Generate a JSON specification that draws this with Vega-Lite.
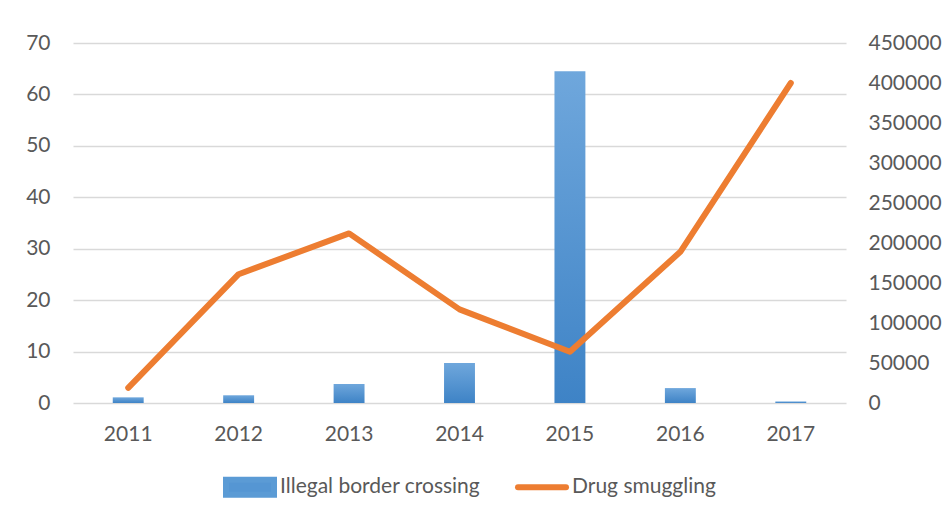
{
  "$schema": "https://vega.github.io/schema/vega-lite/v6.json",
  "width": 773,
  "height": 360,
  "autosize": {"type": "none"},
  "padding": {"left": 73, "top": 43, "right": 99, "bottom": 113},
  "background": "white",
  "data": {
    "values": [
      {"year": "2011", "crossing": 1.1, "smuggling": 19000},
      {"year": "2012", "crossing": 1.5, "smuggling": 161000},
      {"year": "2013", "crossing": 3.7, "smuggling": 212000},
      {"year": "2014", "crossing": 7.8, "smuggling": 117000},
      {"year": "2015", "crossing": 64.5, "smuggling": 64000},
      {"year": "2016", "crossing": 2.9, "smuggling": 189000},
      {"year": "2017", "crossing": 0.3, "smuggling": 400000}
    ]
  },
  "encoding": {
    "x": {
      "field": "year",
      "type": "ordinal",
      "title": null,
      "scale": {"paddingInner": 0, "paddingOuter": 0},
      "axis": {"labelAngle": 0, "domain": false, "ticks": false, "labelPadding": 20}
    }
  },
  "layer": [
    {
      "mark": {
        "type": "bar",
        "width": {"band": 0.28},
        "fill": {
          "gradient": "linear",
          "x1": 0, "y1": 0, "x2": 0, "y2": 1,
          "stops": [
            {"offset": 0, "color": "#6FA7DC"},
            {"offset": 1, "color": "#3E83C6"}
          ]
        }
      },
      "encoding": {
        "y": {
          "field": "crossing",
          "type": "quantitative",
          "title": null,
          "scale": {"domain": [0, 70]},
          "axis": {
            "values": [0, 10, 20, 30, 40, 50, 60, 70],
            "domain": false,
            "ticks": false,
            "labelPadding": 23,
            "grid": true
          }
        }
      }
    },
    {
      "mark": {"type": "line", "strokeWidth": 6, "strokeCap": "round", "strokeJoin": "round"},
      "encoding": {
        "y": {
          "field": "smuggling",
          "type": "quantitative",
          "title": null,
          "scale": {"domain": [0, 450000]},
          "axis": {
            "orient": "right",
            "values": [0, 50000, 100000, 150000, 200000, 250000, 300000, 350000, 400000, 450000],
            "format": "d",
            "domain": false,
            "ticks": false,
            "grid": false,
            "labelPadding": 22
          }
        },
        "color": {
          "datum": "Drug smuggling",
          "scale": {
            "domain": ["Illegal border crossing", "Drug smuggling"],
            "range": ["#5B9BD5", "#ED7D31"]
          },
          "legend": {
            "title": null,
            "orient": "none",
            "legendX": 150,
            "legendY": 417,
            "direction": "horizontal",
            "padding": 0,
            "labelLimit": 0,
            "labelOffset": 3,
            "columnPadding": 25,
            "symbolSize": 2304,
            "symbolStrokeWidth": 6,
            "encode": {
              "symbols": {
                "update": {
                  "shape": {"signal": "(datum.value === 'Drug smuggling' ? 'M-1,-0.3125M-1,0.3125M-1,0H1' : 'M-1,-0.3125H1V0.3125H-1Z')"},
                  "fill": {"signal": "(datum.value === 'Drug smuggling' ? 'transparent' : '#5596D3')"},
                  "stroke": {"signal": "(datum.value === 'Drug smuggling' ? '#ED7D31' : 'transparent')"},
                  "strokeWidth": {"value": 6},
                  "strokeCap": {"value": "round"},
                  "opacity": {"value": 1}
                }
              }
            }
          }
        }
      }
    }
  ],
  "resolve": {"scale": {"y": "independent"}},
  "config": {
    "font": "Lato",
    "view": {"stroke": null},
    "axis": {
      "labelFont": "Lato",
      "labelFontSize": 21,
      "labelColor": "#595959",
      "gridColor": "#D9D9D9",
      "gridWidth": 1.3
    },
    "legend": {
      "labelFont": "Lato",
      "labelFontSize": 21,
      "labelColor": "#595959"
    }
  }
}
